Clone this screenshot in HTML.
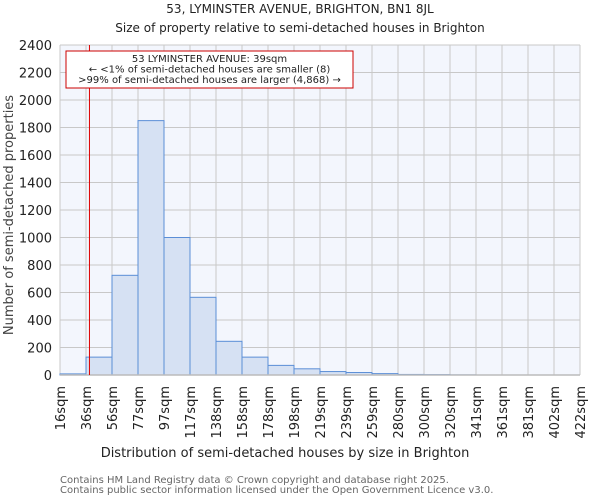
<!DOCTYPE html>
<html><head><meta charset="utf-8"><style>
body{margin:0;background:#fff;font-family:"DejaVu Sans","Liberation Sans",sans-serif}
</style></head><body>
<svg width="600" height="500" xmlns="http://www.w3.org/2000/svg" font-family="DejaVu Sans, Liberation Sans, sans-serif">
<text x="300" y="13" text-anchor="middle" font-size="12" fill="#222">53, LYMINSTER AVENUE, BRIGHTON, BN1 8JL</text>
<text x="300" y="32" text-anchor="middle" font-size="12" fill="#222">Size of property relative to semi-detached houses in Brighton</text>
<rect x="60" y="45" width="520" height="330" fill="#f3f6fd"/>
<g id="grid"></g>
<g id="bars"></g>
<g id="axes"></g>
<text x="285" y="457" text-anchor="middle" font-size="13" fill="#222">Distribution of semi-detached houses by size in Brighton</text>
<text transform="translate(13,215) rotate(-90)" text-anchor="middle" font-size="13" fill="#444">Number of semi-detached properties</text>
<text x="60" y="483" font-size="10" fill="#666">Contains HM Land Registry data © Crown copyright and database right 2025.</text>
<text x="60" y="493" font-size="10" fill="#666">Contains public sector information licensed under the Open Government Licence v3.0.</text>
<g id="annot"></g>
</svg>
<script>
const categories=["16sqm","36sqm","56sqm","77sqm","97sqm","117sqm","138sqm","158sqm","178sqm","198sqm","219sqm","239sqm","259sqm","280sqm","300sqm","320sqm","341sqm","361sqm","381sqm","402sqm","422sqm"];
const binEdges=[16,36.3,56.6,76.9,97.2,117.5,137.8,158.1,178.4,198.7,219,239.3,259.6,279.9,300.2,320.5,340.8,361.1,381.4,401.7,422];
const counts=[8,130,725,1850,1000,565,245,130,70,45,25,18,10,4,3,1,0,0,0,0];
const yTicks=[0,200,400,600,800,1000,1200,1400,1600,1800,2000,2200,2400];
const propertySize=39;
const annotLines=["53 LYMINSTER AVENUE: 39sqm","← <1% of semi-detached houses are smaller (8)",">99% of semi-detached houses are larger (4,868) →"];
const NS="http://www.w3.org/2000/svg";
const L=60,R=580,T=45,B=375,yMax=2400;
const xs=v=>L+(v-binEdges[0])/(binEdges[binEdges.length-1]-binEdges[0])*(R-L);
const ys=v=>B-v/yMax*(B-T);
function mk(tag,attrs,parent){const e=document.createElementNS(NS,tag);for(const k in attrs)e.setAttribute(k,attrs[k]);document.getElementById(parent).appendChild(e);return e;}
yTicks.forEach(t=>{
  const g=mk('line',{x1:L,x2:R,y1:ys(t),y2:ys(t),stroke:'#c8c8c8','stroke-width':1},'grid');
  
  
  const lb=mk('text',{x:L-8,y:ys(t)+5,'text-anchor':'end','font-size':13,fill:'#222'},'axes');
  lb.textContent=t;
  
  
});
binEdges.forEach((e,i)=>{
  const g=mk('line',{x1:xs(e),x2:xs(e),y1:T,y2:B,stroke:'#c8c8c8','stroke-width':1},'grid');
  
  
  const x=xs(e);
  const lb=mk('text',{transform:`translate(${x+5},${B+11}) rotate(-90)`,'text-anchor':'end','font-size':13,fill:'#222'},'axes');
  lb.textContent=categories[i];
  
  
});
counts.forEach((c,i)=>{
  if(c<=0)return;
  const x0=xs(binEdges[i]),x1=xs(binEdges[i+1]);
  const r=mk('rect',{x:x0,y:ys(c),width:x1-x0,height:B-ys(c),fill:'#d6e1f3',stroke:'#5b8ed6','stroke-width':1},'bars');
  
  
});
const ax=mk('line',{x1:L,x2:R,y1:B,y2:B,stroke:'#bbb','stroke-width':1.5},'axes');


const px=xs(propertySize);
const ml=mk('line',{x1:px,x2:px,y1:T,y2:B,stroke:'#dd0000','stroke-width':1},'annot');


const box=mk('rect',{x:66,y:51,width:287,height:37,fill:'#fff',stroke:'#cc0000','stroke-width':1},'annot');


annotLines.forEach((s,i)=>{
  const t=mk('text',{x:209.5,y:62+i*10.5,'text-anchor':'middle','font-size':10,fill:'#222'},'annot');
  t.textContent=s;
  
  
});
</script>
</body></html>
